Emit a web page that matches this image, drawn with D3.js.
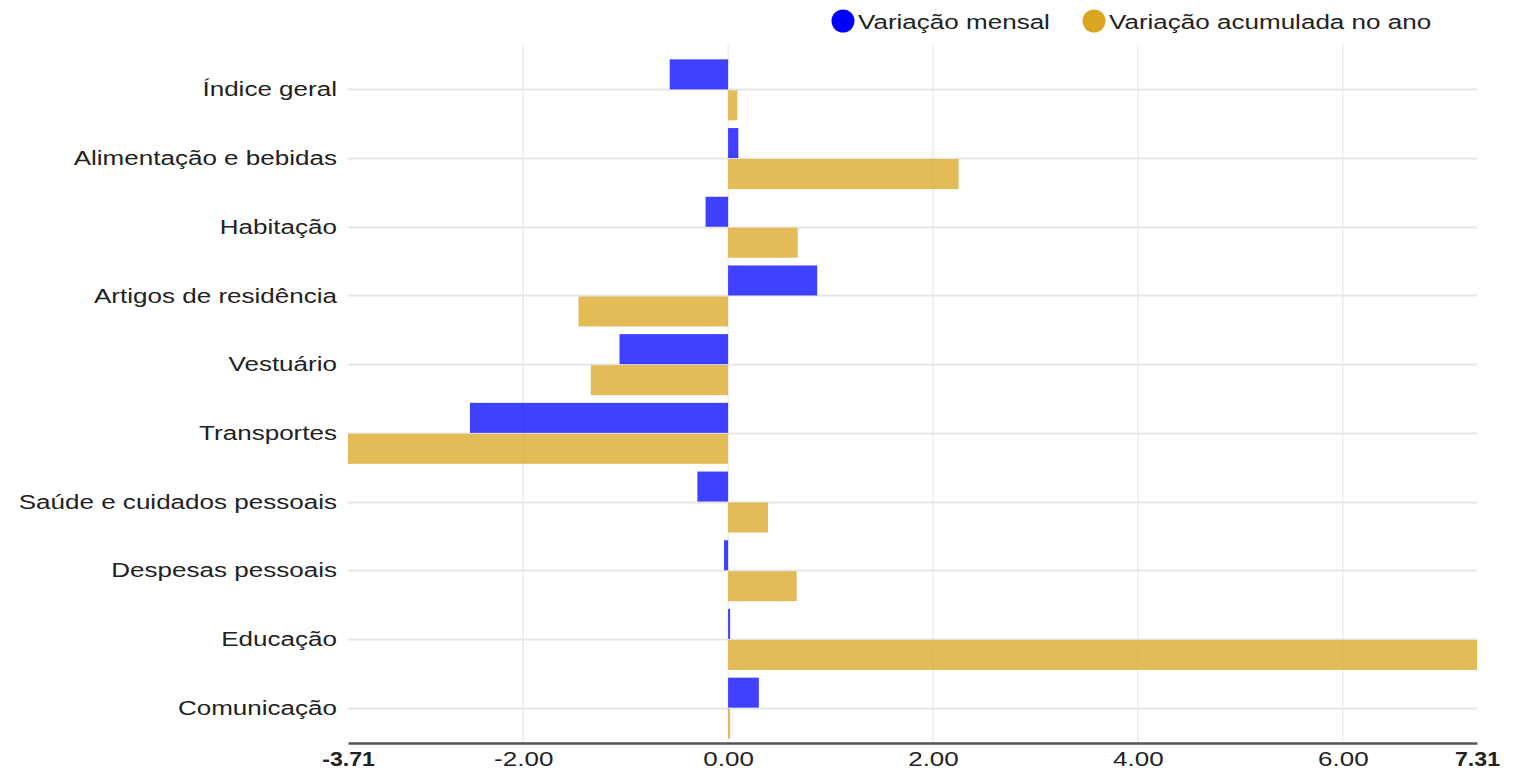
<!DOCTYPE html>
<html><head><meta charset="utf-8">
<script src="https://cdn.jsdelivr.net/npm/d3@7"></script>
<style>
body{margin:0;background:#fff;}
svg{display:block;font-family:"Liberation Sans",Arial,sans-serif;}
</style></head>
<body>
<svg id="chart" width="1514" height="772"></svg>
<script>
const categories = ["Índice geral","Alimentação e bebidas","Habitação","Artigos de residência","Vestuário","Transportes","Saúde e cuidados pessoais","Despesas pessoais","Educação","Comunicação"];
const mensal = [-0.57, 0.10, -0.22, 0.87, -1.06, -2.52, -0.30, -0.04, 0.02, 0.30];
const acumulada = [0.09, 2.25, 0.68, -1.46, -1.34, -3.71, 0.39, 0.67, 7.31, 0.02];
const seriesNames = ["Variação mensal","Variação acumulada no ano"];
const tickValues = [-3.71, -2, 0, 2, 4, 6, 7.31];

(function(){
const svg = d3.select("#chart");
const pL = 348, pR = 1477, pT = 55, pB = 742;
const sx = 1.24; // horizontal stretch of text as in reference
const x = d3.scaleLinear().domain([-3.71, 7.31]).range([pL, pR]);
const y = d3.scaleBand().domain(categories).range([pT, pB]);
const barH = 30;
const fmt = d3.formatLocale({decimal: ".", thousands: ",", grouping: [3], currency: ["", ""], minus: "-"}).format(".2f");

// vertical grid
svg.append("g").selectAll("line").data(tickValues.slice(1, -1)).join("line")
  .attr("x1", d => x(d)).attr("x2", d => x(d))
  .attr("y1", 45).attr("y2", pB)
  .attr("stroke", "#e3e3e3").attr("stroke-width", 1);

const c = d => y(d) + y.bandwidth()/2;

// horizontal grid at category centers
svg.append("g").selectAll("line").data(categories).join("line")
  .attr("x1", pL).attr("x2", pR)
  .attr("y1", d => Math.round(c(d)) + 0.5)
  .attr("y2", d => Math.round(c(d)) + 0.5)
  .attr("stroke", "#e6e6e6").attr("stroke-width", 2);

// mensal bars (above center)
svg.append("g").selectAll("rect").data(categories).join("rect")
  .attr("x", (d,i) => Math.min(x(0), x(mensal[i])))
  .attr("width", (d,i) => Math.max(1.5, Math.abs(x(mensal[i]) - x(0))))
  .attr("y", d => c(d) - barH)
  .attr("height", barH)
  .attr("fill", "#0000ff").attr("fill-opacity", 0.75);

// acumulada bars (below center)
svg.append("g").selectAll("rect").data(categories).join("rect")
  .attr("x", (d,i) => Math.min(x(0), x(acumulada[i])))
  .attr("width", (d,i) => Math.max(1.5, Math.abs(x(acumulada[i]) - x(0))))
  .attr("y", d => c(d) + 1)
  .attr("height", barH)
  .attr("fill", "#daa520").attr("fill-opacity", 0.75);

// category labels
svg.append("g").selectAll("text").data(categories).join("text")
  .attr("transform", d => `translate(337,${c(d)}) scale(${sx},1)`)
  .attr("text-anchor", "end").attr("dominant-baseline", "central")
  .attr("font-size", 21).attr("fill", "#222")
  .text(d => d);

// x axis
const ax = svg.append("g").attr("transform", `translate(0,${pB + 1})`)
  .call(d3.axisBottom(x).tickValues(tickValues).tickFormat(fmt).tickSize(0).tickPadding(8));
ax.select(".domain").attr("stroke", "#555").attr("stroke-width", 2.5);
ax.selectAll("text").attr("font-size", 21).attr("fill", "#222")
  .attr("transform", (d,i) => `scale(${(i === 0 || i === tickValues.length - 1) ? 1.1 : sx},1)`)
  .attr("font-family", "'Liberation Sans',Arial,sans-serif")
  .attr("font-weight", (d,i) => (i === 0 || i === tickValues.length - 1) ? "bold" : "normal");

// legend
const colors = ["#0000ff", "#daa520"];
const legX = [843, 1094];
const lg = svg.append("g").selectAll("g").data(seriesNames).join("g")
  .attr("transform", (d,i) => `translate(${legX[i]},21)`);
lg.append("circle").attr("r", 11.5).attr("fill", (d,i) => colors[i]);
lg.append("text").attr("transform", `translate(15,1) scale(${sx},1)`).attr("dominant-baseline", "central")
  .attr("font-size", 21).attr("fill", "#222").text(d => d);
})();
</script>
</body></html>
